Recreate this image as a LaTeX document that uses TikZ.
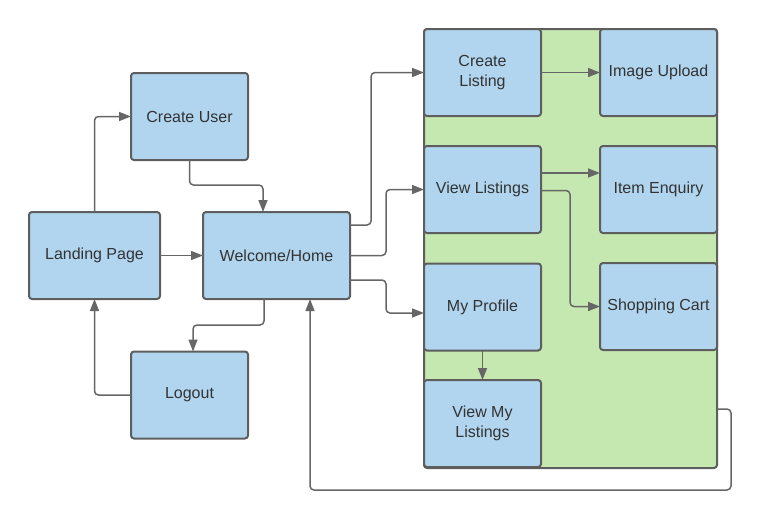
\documentclass[tikz,border=0pt]{standalone}
\usepackage{fontspec}
\setmainfont{Liberation Sans}
\usetikzlibrary{arrows.meta}
\definecolor{boxfill}{HTML}{B1D5EF}
\definecolor{boxline}{HTML}{5E5E5E}
\definecolor{grp}{HTML}{C5E8B0}
\definecolor{conncol}{HTML}{666666}
\definecolor{txt}{HTML}{333333}
\tikzset{
  box/.style={draw=boxline, line width=2pt, fill=boxfill, rounded corners=3pt,
    minimum width=117pt, minimum height=87pt, inner sep=2pt, outer sep=0pt,
    align=center, text=txt, font=\fontsize{16}{20}\selectfont},
  grpbox/.style={draw=boxline, line width=2pt, fill=grp, rounded corners=3pt,
    minimum width=293pt, minimum height=439pt, outer sep=0pt},
  conn/.style={draw=conncol, line width=1.5pt, rounded corners=4pt,
    -{Triangle[length=12pt,width=9pt]}}
}
\begin{document}
\begin{tikzpicture}[x=1pt,y=-1pt]
\useasboundingbox (0,0) rectangle (760,520);
\node[grpbox] (group) at (570.5,248.5) {};
\node[box, minimum width=131pt] (landing) at (94.5,255.5) {Landing Page};
\node[box] (createuser) at (189.5,116.5) {Create User};
\node[box, minimum width=147pt] (welcome) at (276.5,255.5) {Welcome/Home};
\node[box] (logout) at (189.5,395) {Logout};
\node[box] (createlisting) at (482.5,72.5) {Create\\Listing};
\node[box] (imageupload) at (658.5,72.5) {Image Upload};
\node[box] (viewlistings) at (482.5,189.5) {View Listings};
\node[box] (itemenquiry) at (658.5,189.5) {Item Enquiry};
\node[box] (myprofile) at (482.5,307) {My Profile};
\node[box] (shoppingcart) at (658.5,306.5) {Shopping Cart};
\node[box] (viewmylistings) at (482.5,423.5) {View My\\Listings};

\draw[conn] (landing.north) |- (createuser.west);
\draw[conn] (createuser.south) -- ++(0,25) -| ([xshift=-13.5pt]welcome.north);
\draw[conn] (landing.east) -- (welcome.west);
\draw[conn] (welcome.east |- 0,225) -- ++(21,0) |- (createlisting.west);
\draw[conn] (welcome.east) -- ++(36,0) |- (viewlistings.west);
\draw[conn] (welcome.east |- 0,280) -- ++(36,0) |- (myprofile.west |- 0,313);
\draw[conn] (createlisting.east) -- (imageupload.west);
\draw[conn] (viewlistings.east |- 0,173) -- (itemenquiry.west |- 0,173);
\draw[conn] (viewlistings.east |- 0,190.5) -- ++(29,0) |- (shoppingcart.west);
\draw[conn] (myprofile.south) -- (viewmylistings.north);
\draw[conn] ([xshift=-12.5pt]welcome.south) -- ++(0,26) -| ([xshift=3.5pt]logout.north);
\draw[conn] (logout.west) -| (landing.south);
\draw[conn] (group.east |- 0,409) -- ++(14,0) -- ++(0,81) -| ([xshift=33.5pt]welcome.south);
\end{tikzpicture}
\end{document}
